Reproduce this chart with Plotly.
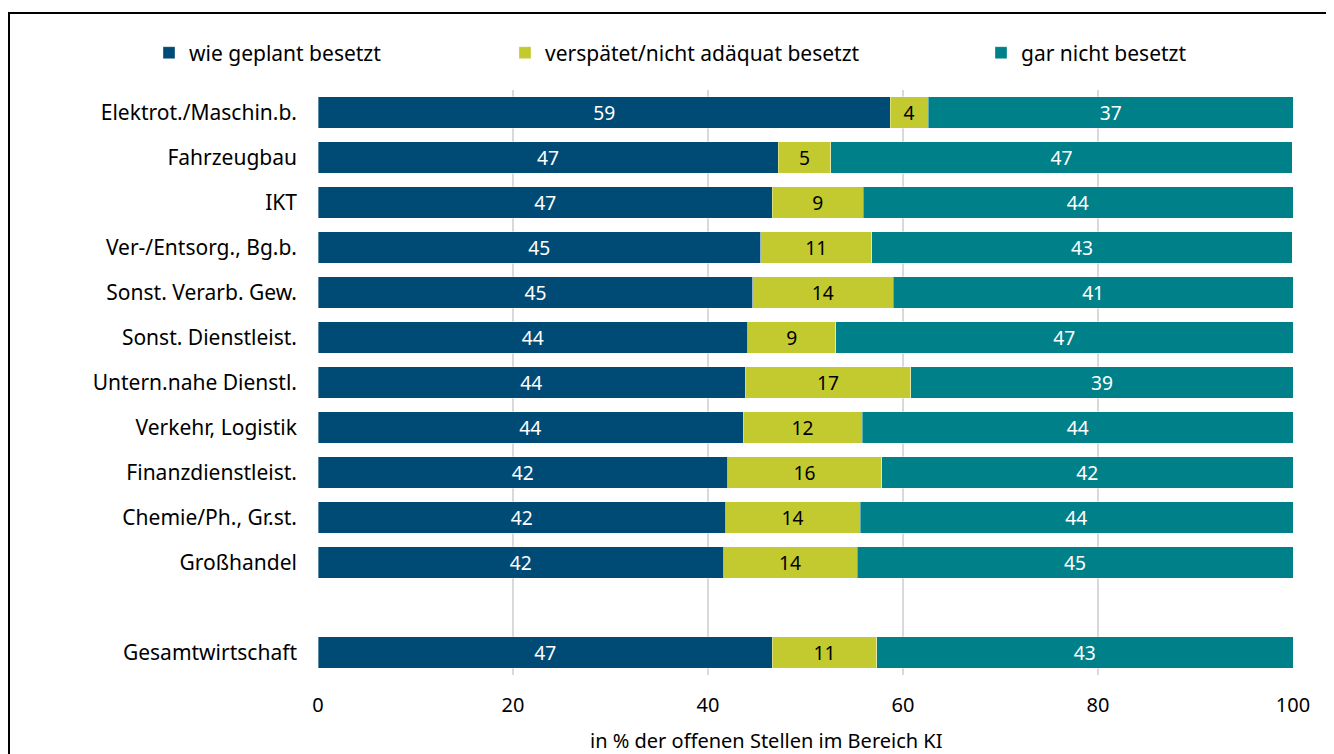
import plotly.graph_objects as go

categories = ["Elektrot./Maschin.b.", "Fahrzeugbau", "IKT", "Ver-/Entsorg., Bg.b.",
              "Sonst. Verarb. Gew.", "Sonst. Dienstleist.", "Untern.nahe Dienstl.",
              "Verkehr, Logistik", "Finanzdienstleist.", "Chemie/Ph., Gr.st.",
              "Großhandel", " ", "Gesamtwirtschaft"]
wie_geplant = [58.7, 47.2, 46.6, 45.4, 44.6, 44.1, 43.8, 43.6, 42.0, 41.8, 41.6, None, 46.6]
verspaetet = [3.9, 5.4, 9.3, 11.4, 14.4, 9.0, 17.0, 12.2, 15.8, 13.8, 13.7, None, 10.7]
gar_nicht = [37.4, 47.3, 44.1, 43.1, 41.0, 46.9, 39.2, 44.3, 42.2, 44.4, 44.7, None, 42.7]
series_names = ["wie geplant besetzt", "verspätet/nicht adäquat besetzt", "gar nicht besetzt"]
x_ticks = [0, 20, 40, 60, 80, 100]
x_title = "in % der offenen Stellen im Bereich KI"

colors = ["#004B76", "#C3CA2F", "#00818A"]
text_colors = ["white", "black", "white"]
FONT = "Noto Sans"

# figure is placed with an 8px page margin; plot area spans page x 318..1293, y 90..675
L, T, PW, PH = 310, 82, 975, 585
W, H = 1326, 746

def px_x(page_x):
    return (page_x - 8 - L) / PW

def px_y(page_y):
    return 1 - (page_y - 8 - T) / PH

fig = go.Figure()
for i, (name, vals) in enumerate(zip(series_names, [wie_geplant, verspaetet, gar_nicht])):
    fig.add_trace(go.Bar(
        y=categories, x=vals, orientation="h", name=name,
        marker=dict(color=colors[i], line=dict(color="rgba(255,255,255,0.6)", width=0.6)),
        text=[("" if v is None else f"{v:.0f}") for v in vals],
        textposition="inside", insidetextanchor="middle", textangle=0,
        textfont=dict(color=text_colors[i], size=20, family=FONT),
        legend=["legend", "legend2", "legend3"][i],
        hoverinfo="skip",
    ))

legend_common = dict(orientation="h", yanchor="middle", y=px_y(53), xanchor="left",
                     font=dict(size=21, family=FONT, color="black"),
                     bgcolor="rgba(0,0,0,0)")
fig.update_layout(
    barmode="stack",
    bargap=0.29,
    width=W, height=H,
    margin=dict(l=L, r=W - L - PW, t=T, b=H - T - PH),
    plot_bgcolor="white", paper_bgcolor="white",
    font=dict(family=FONT, size=20, color="black"),
    uniformtext=dict(minsize=10, mode="show"),
    legend=dict(x=px_x(190 - 41), **legend_common),
    legend2=dict(x=px_x(546 - 41), **legend_common),
    legend3=dict(x=px_x(1022 - 41), **legend_common),
    xaxis=dict(range=[0, 100], tickvals=x_ticks, showgrid=True, gridcolor="#D9D9D9",
               gridwidth=2, zeroline=False, showline=False,
               tickfont=dict(size=20, family=FONT), ticklabelstandoff=16, fixedrange=True),
    yaxis=dict(categoryorder="array", categoryarray=categories, autorange="reversed",
               showgrid=False, zeroline=False, showline=False,
               tickfont=dict(size=21, family=FONT), ticklabelstandoff=20),
    showlegend=True,
)
fig.add_annotation(text=x_title, xref="paper", yref="paper",
                   x=px_x(766), y=px_y(740), xanchor="center", yanchor="middle",
                   showarrow=False, font=dict(size=20, family=FONT, color="black"))
fig.add_shape(type="rect", xref="paper", yref="paper",
              x0=px_x(9), x1=px_x(1345),
              y0=px_y(765), y1=px_y(13),
              line=dict(color="black", width=2), fillcolor="rgba(0,0,0,0)", layer="below")
fig.write_html("out.html")
